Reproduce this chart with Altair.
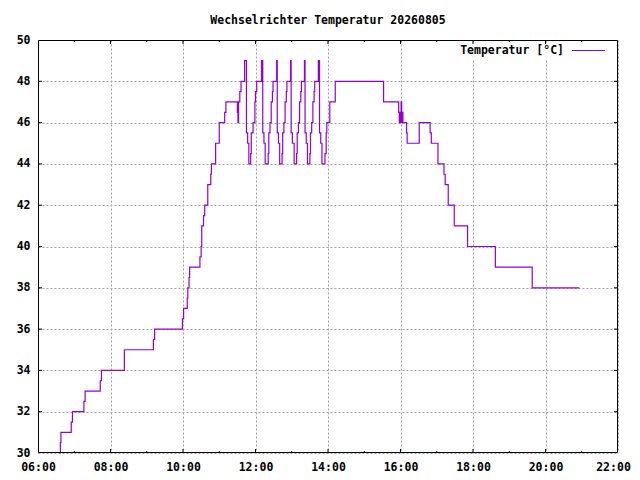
import altair as alt
import pandas as pd

# ---- data ----
times = [
    "06:36", "06:37", "06:38", "06:55", "06:57", "07:16", "07:18", "07:43", "07:45",
    "08:23", "09:11", "09:13", "09:59", "10:01", "10:07", "10:08", "10:10", "10:11",
    "10:28", "10:30", "10:31", "10:34", "10:36", "10:41", "10:46", "10:47", "10:54",
    "11:00", "11:09", "11:11", "11:30", "11:31", "11:32", "11:34", "11:36",
    "11:42", "11:45", "11:47", "11:49",
    "11:52", "11:53", "11:56", "11:59", "12:00", "12:02",
    "12:10", "12:12", "12:14", "12:16",
    "12:21", "12:22", "12:24", "12:26", "12:28", "12:29",
    "12:35", "12:36", "12:38", "12:40",
    "12:44", "12:45", "12:47", "12:49", "12:51", "12:52",
    "12:58", "12:59", "13:01", "13:04",
    "13:08", "13:09", "13:11", "13:13", "13:15", "13:16",
    "13:21", "13:22", "13:24", "13:26",
    "13:30", "13:31", "13:33", "13:35", "13:37", "13:38",
    "13:44", "13:46", "13:48", "13:50",
    "13:55", "13:57", "13:58", "14:03", "14:12",
    "15:32", "15:57", "15:58", "16:00", "16:01", "16:02", "16:03", "16:04",
    "16:10", "16:11", "16:31", "16:49", "16:51",
    "17:02", "17:12", "17:14", "17:19", "17:29", "17:51",
    "18:37", "19:38", "20:56",
]
temps = [
    30, 30.5, 31, 31.5, 32, 32.5, 33, 33.5, 34,
    35, 35.5, 36, 36.5, 37, 37.5, 38, 38.5, 39,
    39.5, 40, 41, 41.5, 42, 43, 43.5, 44, 45,
    46, 46.5, 47, 46.5, 46, 47, 47.5, 48,
    49, 45.5, 45, 44,
    44.5, 45.5, 46, 47, 47.5, 48,
    49, 45.5, 45, 44,
    44.5, 45.5, 46, 47, 47.5, 48,
    49, 45.5, 45, 44,
    44.5, 45.5, 46, 47, 47.5, 48,
    49, 45.5, 45, 44,
    44.5, 45.5, 46, 47, 47.5, 48,
    49, 45.5, 45, 44,
    44.5, 45.5, 46, 47, 47.5, 48,
    49, 45.5, 45, 44,
    44.5, 45.5, 46, 47, 48,
    47, 46.5, 46, 46.5, 47, 46, 46.5, 46,
    45.5, 45, 46, 45.5, 45,
    44, 43.5, 43, 42, 41, 40,
    39, 38, 38,
]
x_labels = [6, 8, 10, 12, 14, 16, 18, 20, 22]
x_major = [8, 10, 12, 14, 16, 18, 20]
x_minor = [7, 9, 11, 13, 15, 17, 19, 21]
y_labels = [30, 32, 34, 36, 38, 40, 42, 44, 46, 48, 50]
y_major = [32, 34, 36, 38, 40, 42, 44, 46, 48]
title_text = ["Wechselrichter Temperatur 20260805"]
legend_text = ["Temperatur [°C]"]

hours = [int(t[:2]) + int(t[3:]) / 60 for t in times]
df = pd.DataFrame({"h": hours, "temp": temps})

FONT = "DejaVu Sans Mono"
PURPLE = "#9400d3"
W, H = 580, 413

xscale = alt.Scale(domain=[6, 22], nice=False, zero=False)
yscale = alt.Scale(domain=[30, 50], nice=False, zero=False)

common_axis = dict(
    title=None, grid=True, gridDash=[2, 2], gridColor="#a0a0a0", gridWidth=1,
    domain=False, ticks=False, labelFont=FONT, labelFontSize=11.5,
    labelFontWeight="bold", labelColor="black", labelFlush=False,
    labelOverlap=False,
)
xaxis = alt.Axis(
    values=x_labels,
    labelExpr="(datum.value < 10 ? '0' : '') + datum.value + ':00'",
    labelOffset={"condition": {"test": "datum.value == 22", "value": -5}, "value": 0},
    labelPadding=8, **common_axis)
yaxis = alt.Axis(values=y_labels, labelPadding=8, **common_axis)

line = alt.Chart(df).mark_line(
    interpolate="step-after", color=PURPLE, strokeWidth=1.2
).encode(
    x=alt.X("h:Q", scale=xscale, axis=xaxis),
    y=alt.Y("temp:Q", scale=yscale, axis=yaxis),
)

# white key box (gnuplot opaque key)
keybox = alt.Chart(pd.DataFrame({"k": [0]})).mark_rect(fill="white").encode(
    x=alt.value(417), x2=alt.value(578), y=alt.value(4.5), y2=alt.value(20)
)

xmaj_df = pd.DataFrame({"h": x_major})
xmin_df = pd.DataFrame({"h": x_minor})
ymaj_df = pd.DataFrame({"temp": y_major})

def xticks(data, y0, y1):
    return alt.Chart(data).mark_rule(color="black", strokeWidth=1).encode(
        x=alt.X("h:Q", scale=xscale, axis=xaxis), y=alt.value(y0), y2=alt.value(y1))

def yticks(data, x0, x1):
    return alt.Chart(data).mark_rule(color="black", strokeWidth=1).encode(
        y=alt.Y("temp:Q", scale=yscale, axis=yaxis), x=alt.value(x0), x2=alt.value(x1))

ticks = [
    xticks(xmaj_df, H, H - 4), xticks(xmaj_df, 0, 4),
    xticks(xmin_df, H, H - 2), xticks(xmin_df, 0, 2),
    yticks(ymaj_df, 0, 4), yticks(ymaj_df, W, W - 4),
]

border = alt.Chart(pd.DataFrame({"k": [0]})).mark_rect(
    filled=False, stroke="black", strokeWidth=1
).encode(x=alt.value(0.5), x2=alt.value(W - 0.5), y=alt.value(0.5), y2=alt.value(H - 0.5))

title = alt.Chart(pd.DataFrame({"t": title_text})).mark_text(
    font=FONT, fontSize=11.5, fontWeight="bold", color="black",
    align="center", baseline="middle"
).encode(text="t:N", x=alt.value(W / 2), y=alt.value(-19))

leg_txt = alt.Chart(pd.DataFrame({"t": legend_text})).mark_text(
    font=FONT, fontSize=11.5, fontWeight="bold", color="black",
    align="right", baseline="middle"
).encode(text="t:N", x=alt.value(526), y=alt.value(10.5))

leg_line = alt.Chart(pd.DataFrame({"k": [0]})).mark_rule(
    color=PURPLE, strokeWidth=1.2
).encode(x=alt.value(534), x2=alt.value(567), y=alt.value(10.5))

chart = alt.layer(
    keybox, line, *ticks, border, title, leg_txt, leg_line
).properties(
    width=W, height=H,
    autosize=alt.AutoSizeParams(type="none"),
    padding={"left": 30, "top": 32, "right": 14, "bottom": 19},
    background="white",
).configure_view(stroke=None)

chart.save("out.html", embed_options={"renderer": "svg", "actions": False})
